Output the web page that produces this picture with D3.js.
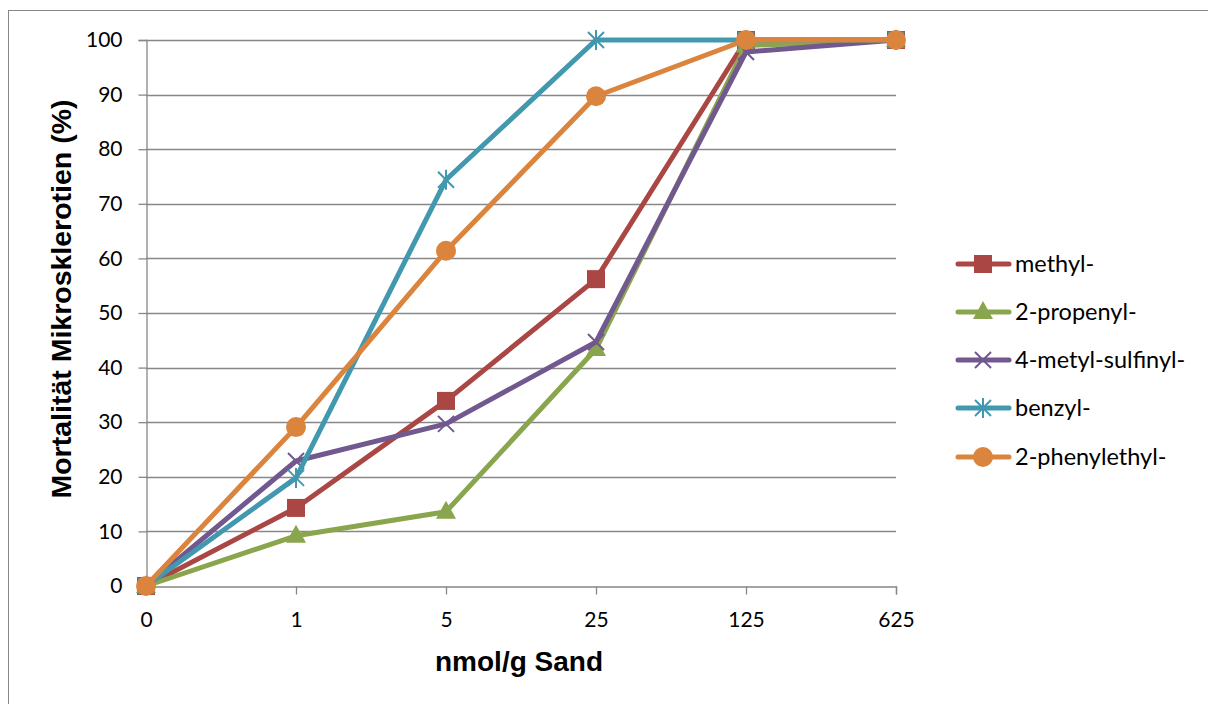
<!DOCTYPE html>
<html>
<head>
<meta charset="utf-8">
<script src="https://cdn.jsdelivr.net/npm/d3@7"></script>
<style>
  html, body { margin: 0; padding: 0; background: #fff; }
  svg { display: block; }
</style>
</head>
<body>
<svg id="chart" width="1208" height="704"></svg>
<script>
// Dose levels (nmol/g sand) shown as evenly spaced categories
const doses = ["0", "1", "5", "25", "125", "625"];
const yTicks = [0, 10, 20, 30, 40, 50, 60, 70, 80, 90, 100];

// Mortality of microsclerotia (%) per isothiocyanate
const methyl = [0, 14.3, 33.9, 56.2, 100, 100];
const propenyl = [0, 9.2, 13.6, 43.4, 99.0, 100];
const metylSulfinyl = [0, 22.9, 29.7, 44.7, 97.8, 100];
const benzyl = [0, 19.8, 74.4, 100, 100, 100];
const phenylethyl = [0, 29.1, 61.4, 89.7, 100, 100];

const seriesNames = ["methyl-", "2-propenyl-", "4-metyl-sulfinyl-", "benzyl-", "2-phenylethyl-"];
const seriesValues = [methyl, propenyl, metylSulfinyl, benzyl, phenylethyl];
const seriesColors = ["#AA4643", "#89A54E", "#71588F", "#4198AF", "#DB843D"];
const seriesMarkers = ["square", "triangle", "cross", "star", "circle"];

const svg = d3.select("#chart");
const gridColor = "#878787";

// outer chart frame
svg.append("rect")
  .attr("x", 8.5).attr("y", 10.5)
  .attr("width", 1400).attr("height", 900)
  .attr("fill", "none").attr("stroke", gridColor).attr("stroke-width", 1);

const plot = { left: 146, right: 896, top: 40, bottom: 586 };

const x = d3.scalePoint().domain(doses).range([plot.left, plot.right]);
const y = d3.scaleLinear().domain([0, 100]).range([plot.bottom, plot.top]);

// horizontal gridlines
svg.append("g").selectAll("line")
  .data(yTicks.filter(d => d > 0))
  .join("line")
  .attr("x1", plot.left).attr("x2", plot.right)
  .attr("y1", d => Math.round(y(d)) + 0.5).attr("y2", d => Math.round(y(d)) + 0.5)
  .attr("stroke", gridColor).attr("stroke-width", 1.3);

// y axis
const yAxis = svg.append("g")
  .attr("transform", `translate(${plot.left + 0.5},0)`)
  .call(d3.axisLeft(y).tickValues(yTicks).tickSize(8).tickPadding(16));
yAxis.select(".domain").attr("stroke", gridColor).attr("stroke-width", 1.3);
yAxis.selectAll(".tick line").attr("stroke", gridColor).attr("stroke-width", 1.3);
yAxis.selectAll(".tick text")
  .attr("font-family", "Lato, 'Open Sans', sans-serif")
  .attr("font-size", 21).attr("fill", "#000");

// x axis
const xAxis = svg.append("g")
  .attr("transform", `translate(0,${plot.bottom + 0.5})`)
  .call(d3.axisBottom(x).tickSize(8).tickPadding(18));
xAxis.select(".domain").attr("stroke", gridColor).attr("stroke-width", 1.3);
xAxis.selectAll(".tick line").attr("stroke", gridColor).attr("stroke-width", 1.3);
xAxis.selectAll(".tick text")
  .attr("font-family", "Lato, 'Open Sans', sans-serif")
  .attr("font-size", 21).attr("fill", "#000");

// axis titles
svg.append("text")
  .attr("x", 519).attr("y", 671)
  .attr("text-anchor", "middle")
  .attr("font-family", "'Liberation Sans', Arial, sans-serif")
  .attr("font-weight", "bold").attr("font-size", 28)
  .text("nmol/g Sand");

svg.append("text")
  .attr("transform", "translate(71,299) rotate(-90)")
  .attr("text-anchor", "middle")
  .attr("font-family", "'Liberation Sans', Arial, sans-serif")
  .attr("font-weight", "bold").attr("font-size", 28.5)
  .text("Mortalität Mikrosklerotien (%)");

// marker drawing
function drawMarker(g, type, color, cx, cy) {
  if (type === "square") {
    g.append("rect").attr("x", cx - 9).attr("y", cy - 9)
      .attr("width", 18).attr("height", 18).attr("fill", color);
  } else if (type === "triangle") {
    g.append("path")
      .attr("d", `M${cx},${cy - 11}L${cx + 10},${cy + 7}L${cx - 10},${cy + 7}Z`)
      .attr("fill", color);
  } else if (type === "circle") {
    g.append("circle").attr("cx", cx).attr("cy", cy).attr("r", 10).attr("fill", color);
  } else if (type === "cross") {
    const s = 8;
    g.append("path")
      .attr("d", `M${cx - s},${cy - s}L${cx + s},${cy + s}M${cx - s},${cy + s}L${cx + s},${cy - s}`)
      .attr("stroke", color).attr("stroke-width", 2).attr("fill", "none");
  } else if (type === "star") {
    const s = 8;
    g.append("path")
      .attr("d", `M${cx - s},${cy - s}L${cx + s},${cy + s}M${cx - s},${cy + s}L${cx + s},${cy - s}M${cx},${cy - s - 2}L${cx},${cy + s + 2}`)
      .attr("stroke", color).attr("stroke-width", 2).attr("fill", "none");
  }
}

const line = d3.line()
  .x((d, i) => x(doses[i]))
  .y(d => y(d));

// series lines with markers, drawn in series order
seriesValues.forEach((vals, si) => {
  const g = svg.append("g");
  g.append("path")
    .datum(vals)
    .attr("d", line)
    .attr("fill", "none")
    .attr("stroke", seriesColors[si])
    .attr("stroke-width", 5)
    .attr("stroke-linejoin", "round")
    .attr("stroke-linecap", "round");
  vals.forEach((v, i) => drawMarker(g, seriesMarkers[si], seriesColors[si], x(doses[i]), y(v)));
});

// legend
const legendY = [264, 312, 360, 408, 457];
seriesNames.forEach((name, si) => {
  const g = svg.append("g");
  const ly = legendY[si];
  g.append("line")
    .attr("x1", 958).attr("x2", 1009)
    .attr("y1", ly).attr("y2", ly)
    .attr("stroke", seriesColors[si]).attr("stroke-width", 5)
    .attr("stroke-linecap", "round");
  drawMarker(g, seriesMarkers[si], seriesColors[si], 983, ly);
  g.append("text")
    .attr("x", 1015).attr("y", ly + 8)
    .attr("font-family", "Lato, 'Open Sans', sans-serif")
    .attr("font-size", 23.5).attr("fill", "#000")
    .text(name);
});
</script>
</body>
</html>
